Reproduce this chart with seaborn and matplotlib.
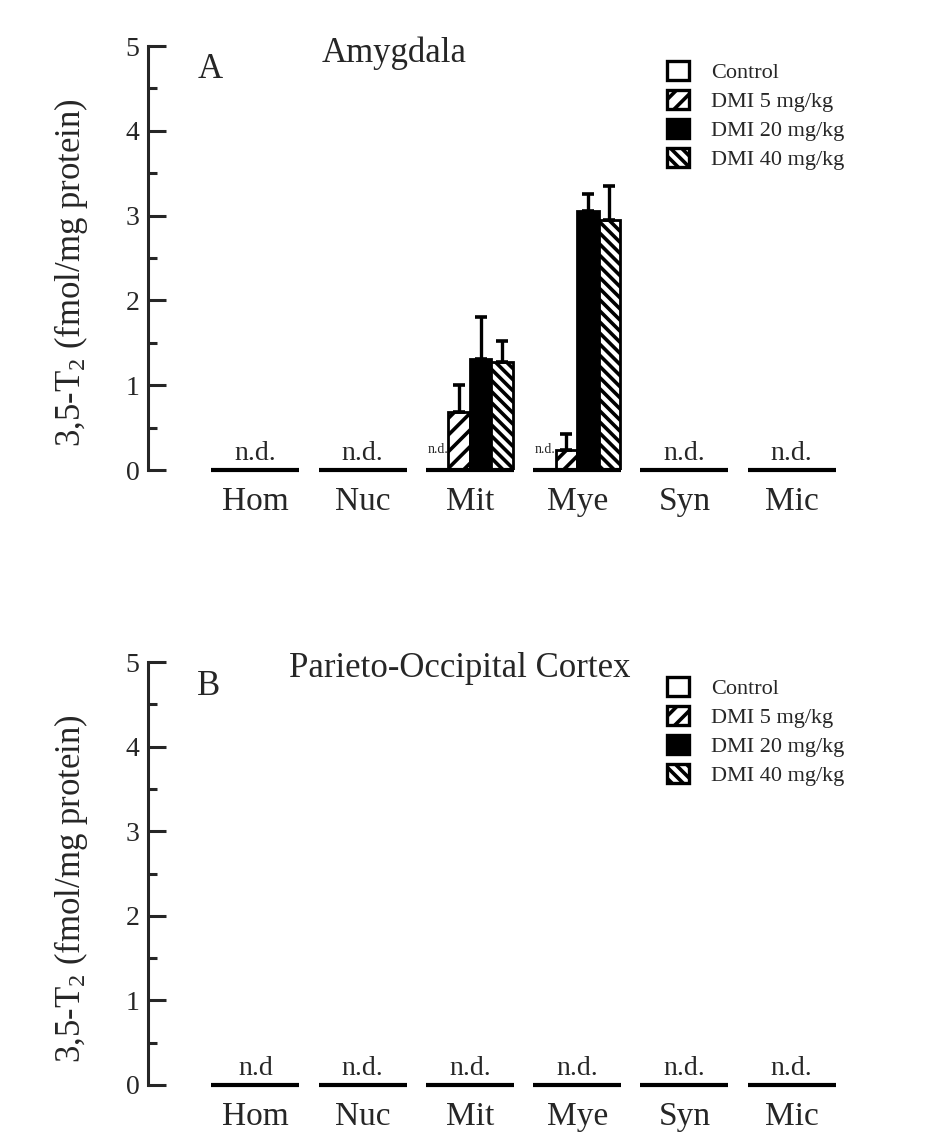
import numpy as np
import pandas as pd
import matplotlib
matplotlib.use("Agg")
import matplotlib.pyplot as plt
from matplotlib.patches import Patch
from matplotlib.ticker import MultipleLocator
import seaborn as sns

# Subcellular fractions
categories = ["Hom", "Nuc", "Mit", "Mye", "Syn", "Mic"]
groups = ["Control", "DMI 5 mg/kg", "DMI 20 mg/kg", "DMI 40 mg/kg"]

# 3,5-T2 (fmol/mg protein); None = not detected (n.d.)
amyg_control = [None, None, None, None, None, None]
amyg_dmi5 = [None, None, 0.68, 0.24, None, None]
amyg_dmi20 = [None, None, 1.31, 3.05, None, None]
amyg_dmi40 = [None, None, 1.27, 2.95, None, None]
amyg_err_dmi5 = [0, 0, 0.32, 0.18, 0, 0]
amyg_err_dmi20 = [0, 0, 0.50, 0.20, 0, 0]
amyg_err_dmi40 = [0, 0, 0.25, 0.40, 0, 0]

cortex_control = [None, None, None, None, None, None]
cortex_dmi5 = [None, None, None, None, None, None]
cortex_dmi20 = [None, None, None, None, None, None]
cortex_dmi40 = [None, None, None, None, None, None]
zero_err = [0, 0, 0, 0, 0, 0]

# "n.d." labels printed above empty fractions
amyg_nd_labels = ["n.d.", "n.d.", None, None, "n.d.", "n.d."]
cortex_nd_labels = ["n.d", "n.d.", "n.d.", "n.d.", "n.d.", "n.d."]

panel_letters = ["A", "B"]
panel_titles = ["Amygdala", "Parieto-Occipital Cortex"]
y_label = "3,5-T$_2$ (fmol/mg protein)"

fills = {"Control": "white", "DMI 5 mg/kg": "white",
         "DMI 20 mg/kg": "black", "DMI 40 mg/kg": "white"}
hatches = {"Control": "", "DMI 5 mg/kg": "//",
           "DMI 20 mg/kg": "", "DMI 40 mg/kg": "\\\\\\"}


def long_table(series, errors):
    rows = []
    for g, vals, errs in zip(groups, series, errors):
        for c, v, e in zip(categories, vals, errs):
            rows.append({"fraction": c, "group": g,
                         "value": np.nan if v is None else v,
                         "err": e})
    df = pd.DataFrame(rows)
    df["nd"] = df["value"].isna()
    df["plot_value"] = df["value"].fillna(0.0)
    return df


sns.set_style("ticks")
plt.rcParams["font.family"] = ["Liberation Serif", "DejaVu Serif"]
plt.rcParams["mathtext.fontset"] = "custom"
plt.rcParams["mathtext.rm"] = "Liberation Serif"
plt.rcParams["mathtext.it"] = "Liberation Serif:italic"
plt.rcParams["hatch.linewidth"] = 2.6
plt.rcParams["hatch.color"] = "black"

fig = plt.figure(figsize=(9.39, 11.42), dpi=100)
ax_w = 692 / 939
axes = [fig.add_axes([148 / 939, 1 - 470 / 1142, ax_w, 424 / 1142]),
        fig.add_axes([148 / 939, 1 - 1085 / 1142, ax_w, 423 / 1142])]

panels = [
    (long_table([amyg_control, amyg_dmi5, amyg_dmi20, amyg_dmi40],
                [zero_err, amyg_err_dmi5, amyg_err_dmi20, amyg_err_dmi40]),
     amyg_nd_labels),
    (long_table([cortex_control, cortex_dmi5, cortex_dmi20, cortex_dmi40],
                [zero_err, zero_err, zero_err, zero_err]),
     cortex_nd_labels),
]
legend_tops = [1 - 61 / 1142, 1 - 677 / 1142]
letter_pos = [(0.071, 0.925), (0.071, 0.922)]
title_pos = [(0.355, 0.962), (0.451, 0.965)]

for k, (ax, (df, nd_labels)) in enumerate(zip(axes, panels)):
    sns.barplot(data=df, x="fraction", y="plot_value", hue="group",
                order=categories, hue_order=groups, palette=fills,
                saturation=1, edgecolor="black", linewidth=2.0,
                errorbar=None, width=0.8, legend=False, ax=ax)

    for g, cont in zip(groups, ax.containers):
        sub = df[df["group"] == g].set_index("fraction").loc[categories]
        for bar, (_, row) in zip(cont, sub.iterrows()):
            bar.set_hatch(hatches[g])
            if row["nd"]:
                bar.set_visible(False)
                continue
            if row["err"] > 0:
                xc = bar.get_x() + bar.get_width() / 2
                ax.errorbar(xc, row["value"], yerr=[[0], [row["err"]]],
                            fmt="none", ecolor="black", elinewidth=2.4,
                            capsize=4.5, capthick=2.6, zorder=1)
        # control not detected while other groups were: small n.d. tag
        if g == "Control":
            for bar, (_, row) in zip(cont, sub.iterrows()):
                frac = row.name
                others = df[(df["fraction"] == frac) & (df["group"] != g)]
                if row["nd"] and not others["nd"].all():
                    xc = bar.get_x() + bar.get_width() / 2
                    ax.text(xc, 0.17, "n.d.", ha="center", va="bottom",
                            fontsize=10)

    # baseline segment under each fraction
    for i, c in enumerate(categories):
        ax.hlines(0, i - 0.41, i + 0.41, color="black", lw=3.0,
                  clip_on=False, zorder=3)
        if nd_labels[i]:
            ax.annotate(nd_labels[i], (i, 0), xytext=(0, 7),
                        textcoords="offset points", ha="center",
                        va="baseline", fontsize=20)

    ax.set_xlim(-1.0, 5.45)
    ax.set_ylim(0, 5)
    ax.set_xlabel("")
    ax.set_ylabel(y_label, fontsize=25)
    ax.yaxis.set_label_coords(-0.084, 0.465)
    ax.yaxis.set_major_locator(MultipleLocator(1))
    ax.yaxis.set_minor_locator(MultipleLocator(0.5))
    ax.tick_params(axis="y", which="major", direction="in", length=13,
                   width=2.2, labelsize=20, pad=6)
    ax.tick_params(axis="y", which="minor", direction="in", length=6.5,
                   width=2.2)
    ax.tick_params(axis="x", length=0, labelsize=24, pad=12)
    for s in ["top", "right", "bottom"]:
        ax.spines[s].set_visible(False)
    ax.spines["left"].set_linewidth(2.2)
    ax.spines["left"].set_bounds(0, 5)

    ax.text(letter_pos[k][0], letter_pos[k][1], panel_letters[k],
            transform=ax.transAxes, fontsize=25, ha="left", va="baseline")
    ax.text(title_pos[k][0], title_pos[k][1], panel_titles[k],
            transform=ax.transAxes, fontsize=25, ha="center",
            va="baseline")

    handles = [Patch(facecolor=fills[g], edgecolor="black", linewidth=2.4,
                     hatch=hatches[g], label=g) for g in groups]
    ax.legend(handles=handles, loc="upper left",
              bbox_to_anchor=(667 / 939, legend_tops[k]),
              bbox_transform=fig.transFigure, frameon=False,
              borderpad=0, borderaxespad=0, fontsize=16,
              handlelength=1.0, handleheight=0.95, handletextpad=1.0,
              labelspacing=0.3)

fig.savefig("out.png", dpi=100, facecolor="white")
